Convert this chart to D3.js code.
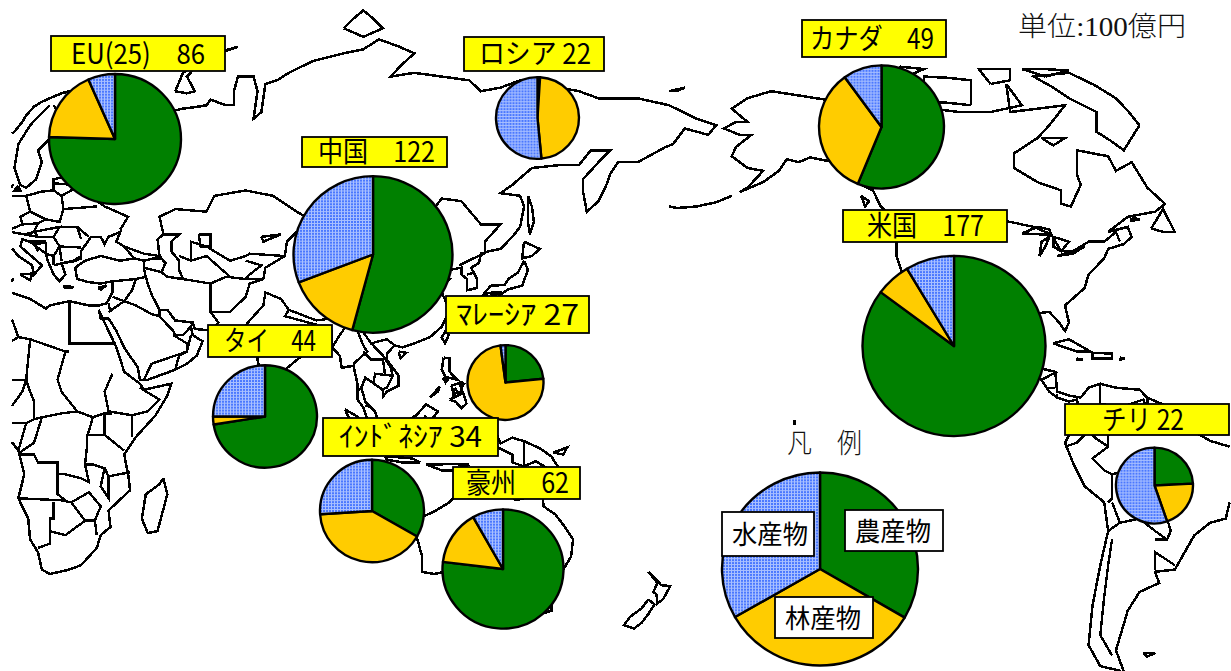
<!DOCTYPE html>
<html>
<head>
<meta charset="utf-8">
<script src="https://cdn.jsdelivr.net/npm/d3@7"></script>
<style>
html, body { margin: 0; padding: 0; background: #fff; }
svg { display: block; }
</style>
</head>
<body>
<svg id="chart" width="1231" height="671"></svg>
<script>
// names + totals (100 oku yen)
var regions = ['EU(25)', 'ロシア', '中国', 'タイ', 'ﾏﾚｰｼｱ', 'ｲﾝﾄﾞﾈｼｱ', '豪州', 'カナダ', '米国', 'チリ'];
var totals = [86, 22, 122, 44, 27, 34, 62, 49, 177, 22];
var labelText = ['EU(25)　86', 'ロシア 22', '中国　122', 'タイ　44', 'ﾏﾚｰｼｱ 27', 'ｲﾝﾄﾞﾈｼｱ 34', '豪州　62', 'カナダ　49', '米国　177', 'チリ 22'];

// shares in %
var agriculture = [75.5, 1, 54.2, 72.5, 23.4, 33.3, 76.9, 56.2, 85.2, 24.2];
var forestry = [17.9, 47.5, 15, 2.5, 74.5, 40.7, 14.9, 33.8, 6.2, 20.5];
var fishery = [6.6, 51.5, 30.8, 25, 2.1, 26, 8.2, 10, 8.6, 55.3];

var productNames = ['農産物', '林産物', '水産物'];
var legendShares = [33.4, 33.3, 33.3];

// map lines, lon/lat
var coasts = [
  // eurasia north, east, south
  [[5,60],[5,62],[8,63.5],[11,65],[13,66.5],[14,67.5],[16,68.8],[18,69.5],[20,70],[23,70.7],[25,71],[28,71],[31,70],[33,69.5],[37,69],[41,67.5],[40,66],[37,66.3],[35,66.5],[33,67],[35,65],[37,64],[40,65],[42,66.5],[44,66],[44,68],[46,68],[46,66.8],[50,68],[54,68.5],[58,68.8],[60,69],[61,69.8],[65,69],[67,69],[67,71],[68,73],[72,73],[73,71],[72,67],[74,68],[75,72],[78,72.5],[81,73.5],[87,75],[95,76],[100,76.5],[104,77.7],[113,76],[107,73],[113,73.5],[120,73],[127,72.5],[130,71],[135,71.5],[140,72.5],[150,71.5],[155,71],[160,70],[170,70],[178,69],[-175,67],[-170,66],[-172,64.5],[-178,65.5],[179,63],[177,62.5],[170,60],[165,60],[163,58],[162,56],[160,53],[157,51],[156,55],[156,57],[160,60],[163,62],[158,62],[155,59.5],[150,59.5],[143,59],[138,56],[135,54.5],[140,54],[141,52],[140,48],[138,46],[135,43.5],[132,43],[130,42.5],[129.5,40.5],[127.5,39.5],[129,37],[129,35],[126.5,34.5],[126.5,37],[125,38],[125,39.5],[122,39],[121,40.5],[118,39],[119,37.5],[122,37],[119.5,35],[121,32],[122,30],[120,26],[117,23.5],[113,22],[110,21],[108,21.5],[106,19.5],[106,18],[109,14],[109,11.5],[106,10],[105,8.7],[105,10.5],[102,12.5],[100.5,13.5],[99.5,11],[100.5,7.5],[103,5],[104,2],[103,1.5],[101,3],[100,6],[98.5,8],[98.5,12],[97.5,16.5],[94.5,16],[94,19],[92,21],[90,22],[87,21.5],[85,19.5],[80,15.5],[80,12],[78,8.5],[76,10],[74,14],[73,18],[73,21],[70.5,21],[69,22.5],[67,25],[62,25],[57,25.5],[56.5,27],[52,27.5],[50,30],[48,30],[48,28.5],[50,26.5],[51.5,25],[52,24],[54,24],[56,26],[56.5,24],[59,22.5],[57.5,19],[55,17],[52,15.5],[45,13],[43,13],[42.5,16],[39,21],[37,25],[35,28],[33,28],[32.5,30]],
  // mediterranean / black sea side
  [[32.5,31],[34.5,31.5],[36,34],[36,36.5],[33,36],[30,36.3],[27,37],[26.5,39.5],[29,41],[33,42],[38,41],[41.5,41.5],[39,44],[37,45],[38,47],[35,46],[34,44.5],[33,46],[30.5,46],[28,43],[28,41.5],[26,40.8],[23,40.5],[24,38],[22.5,36.5],[21,38],[19.5,41],[19,42.5],[15,45],[13,45.5],[12.5,44],[16,41.5],[18,40],[16,38],[15.5,40],[12,42],[10,44],[8,44]],
  // baltic
  [[11,59],[12.5,56],[14,55.5],[16.5,57],[18,60],[17,62],[21,64.5],[24,66],[25,65],[21.5,63],[21.5,61],[23,60],[30,60],[28,59.5],[24,59],[24,57.5],[21,57],[21,55],[18,54.8],[14,54],[10,54],[8,55],[9,57],[10.5,56],[10,54]],
  [[12,55.8],[12.5,55],[11,55],[12,55.8]],
  // africa
  [[32.5,30],[34,27],[37,21],[39,15],[43,12],[44,10.5],[51,12],[50,9],[47,4],[42,-1.5],[39,-6],[40,-11],[40.5,-15],[35,-20],[35.5,-24],[33,-26],[32,-29],[28,-33],[25,-34],[20,-35],[18,-34],[17,-30],[15,-27],[14.5,-22],[12,-17],[13.5,-11],[12,-5],[9,-1],[9.5,3.5],[6,4.5],[3,6]],
  [[32.5,31],[30,31],[25,32],[20,31],[19,30.3],[15,32.5],[10,34],[10.5,37],[7,37]],
  [[49,-12],[50,-16],[47.5,-25],[45,-25.5],[43.5,-22],[44.5,-16],[48,-13.5],[49,-12]],
  // caspian
  [[47.5,45.5],[49,46.5],[53,46.5],[51,45],[51,43],[53,41],[53,39],[54,37],[50,37.5],[48.5,38.5],[49.5,40.5],[48,42],[47.5,45.5]],
  // aral, balkhash
  [[58,46.5],[61,46.5],[61,44],[58.5,44],[58,46.5]],
  [[74,46],[79,46.5],[74.5,45],[74,46]],
  // arctic islands of russia
  [[52,71],[55,70.7],[57,71],[55,73],[60,75.5],[68,76.8],[62,76],[54,73.5],[52,71]],
  [[95,79],[100,78],[105,79],[100,81],[95,79]],
  [[137,75],[145,75.3],[150,75],[140,74],[137,75]],
  [[-180,71],[-178,71.5],[178,71],[-180,71]],
  // sakhalin
  [[142,54],[143,52],[143.5,49],[142.5,46.5],[142,49],[142,54]],
  // japan
  [[141,45],[145,43.5],[143,42],[140.5,41.5],[141,45]],
  [[141,41],[142,39],[140.5,35.5],[137,34.7],[135,33.5],[131,34],[132.5,35.5],[136,35.7],[137,37],[139.5,38.5],[141,41]],
  [[131,33.8],[132,32.8],[131,31],[129.8,32.5],[131,33.8]],
  [[132.5,34],[134.5,34],[133,33],[132.5,34]],
  [[127,26.8],[128.3,26.5],[127.7,26],[127,26.8]],
  // taiwan, hainan
  [[121,25],[121.8,24],[120.8,22],[120,23.5],[121,25]],
  [[109,20],[111,19.7],[109.5,18.3],[109,20]],
  // philippines
  [[120.5,18.5],[122,18.3],[122,15],[124,13],[121,13.7],[120,15.5],[120.5,18.5]],
  [[122,8],[125.5,9.7],[126.3,7],[125,5.8],[123.5,7.5],[122,8]],
  [[122.5,11.5],[125,12.3],[125,10],[123,9.5],[122.5,11.5]],
  [[117,8.5],[119.5,11.3],[119,10],[117,8.5]],
  [[120.3,13.4],[121.5,13],[121,12.3],[120.3,13.4]],
  [[124.3,12.5],[125.7,12],[125,11],[124.3,12.5]],
  [[123.3,11],[124,10],[123,9],[123.3,11]],
  // borneo, sumatra, java, sulawesi, new guinea
  [[109,1.5],[111,2.5],[113.5,4],[116,6.8],[119,5],[117.5,3],[118,1],[116.5,-1],[116,-4],[113,-3.3],[110,-3],[109,-0.5],[109,1.5]],
  [[95.3,5.5],[98,4],[100.5,2],[103.5,0],[106,-3],[105.5,-6],[102,-4],[100,-1.5],[97,2],[95.3,5.5]],
  [[105.5,-6.5],[109,-6.7],[112.5,-7],[114.5,-8],[110,-8],[106,-7.3],[105.5,-6.5]],
  [[120,1],[125,1.3],[121,0],[123,-1],[121.5,-2],[123,-5],[121,-3.5],[120.5,-5.5],[119.5,-3.5],[119.5,0],[120,1]],
  [[131,-1],[134,-0.8],[135,-3.2],[138,-1.7],[141,-2.6],[145,-4.4],[148,-6.5],[150.5,-10.5],[147,-9.5],[144,-7.7],[141,-9],[138,-8],[138,-6],[134,-4],[133,-4],[131,-1]],
  [[116,-8.5],[119,-8.5],[122.5,-8.4],[125,-8.5],[127,-8.5],[124,-10],[120,-10],[116,-8.5]],
  [[127.5,2],[128.5,0],[128,-1],[127.5,2]],
  [[128,-3],[130.5,-3.3],[128,-3.6],[128,-3]],
  [[148.5,-5.5],[152,-4.2],[151,-6],[148.5,-5.5]],
  // australia, tasmania, nz
  [[114,-22],[113.5,-26],[115,-31],[115,-34.5],[118,-35],[123.5,-34],[129,-31.6],[134,-32.5],[136,-35],[138,-33],[138,-35.5],[140.5,-38],[144,-38.5],[147,-38.8],[150,-37.5],[151,-34],[153,-31],[153.5,-27],[151,-23.5],[149,-21],[146,-19],[145.5,-15],[143.5,-14.2],[142.5,-11],[141.5,-13],[141,-17],[139,-17.5],[135.5,-15],[136.5,-12],[132,-11.5],[130,-13],[129,-15],[125,-14.5],[122,-18],[118,-20.3],[114,-22]],
  [[145,-41],[148,-41],[148,-43],[146,-43.5],[145,-41]],
  [[172.7,-34.5],[174.5,-36],[176,-37.5],[178.3,-37.7],[176.5,-40.5],[175,-41.5],[174.8,-39.5],[174,-39],[175,-37],[172.7,-34.5]],
  [[172.7,-40.6],[174.3,-41.7],[172.7,-43.7],[171,-45.5],[169,-46.7],[166.5,-46],[168,-44.3],[171,-42.5],[172.7,-40.6]],
  // sri lanka, sicily, sardinia, crete, cyprus
  [[80,9.7],[81.8,7.5],[80.6,6],[79.8,8],[80,9.7]],
  [[12.5,38],[15.5,38.2],[15,36.7],[12.5,38]],
  [[8.3,41],[9.7,41],[9.5,39],[8.5,39],[8.3,41]],
  [[23.5,35.5],[26.2,35.2],[24,35],[23.5,35.5]],
  [[32.3,35],[34.5,35.6],[33,34.6],[32.3,35]],
  // north america
  [[-141,69.7],[-150,70.5],[-156,71],[-162,70],[-166,68.5],[-162,66.5],[-165,66.5],[-168,65.5],[-164,64.5],[-161,64.5],[-165,62.5],[-166,61],[-162,59],[-158,58.5],[-162,55.5],[-164,54.7],[-158,56.5],[-154,58.5],[-152,60.5],[-149,60],[-146,60.8],[-140,60],[-136,58.5],[-133,56],[-130,55],[-128,52],[-124,49],[-124,46],[-124,42],[-122,37],[-118,34],[-117,32.5],[-115,28],[-110,23],[-112,27],[-114.7,31.5],[-112,29],[-109,25],[-105,21],[-105,19.5],[-100,17],[-95,16],[-92,14.5],[-87,13],[-85,10],[-83,8.5],[-80,7.5],[-78,8],[-77,4],[-79,1],[-81,-3],[-79,-8],[-76,-14],[-71,-18],[-70,-25],[-72,-33],[-74,-42],[-75,-50],[-72,-54],[-66,-55],[-68,-51],[-65,-43],[-62,-39],[-57,-37],[-58,-34.5],[-53,-34],[-48,-26],[-44,-23],[-40,-22],[-39,-18]],
  [[-77,8.5],[-75,11],[-72,12],[-68,11],[-62,10.5],[-60,8.5],[-52,5],[-50,1],[-44,-2.5],[-39,-4]],
  [[-77,8.5],[-80,9],[-83,10],[-83.5,15],[-88,16],[-88,21.5],[-90.5,21],[-91,18.5],[-95,18],[-97.5,22],[-97,27],[-94,29.5],[-90,29],[-85,29.5],[-82.5,27],[-81,25],[-80,27],[-81,31],[-76,35],[-75,38],[-71,41.5],[-70,43.5],[-66,44.5],[-64,46],[-65,48],[-70,47],[-65,50],[-58,51],[-55.5,52.5],[-60,55.5],[-64,60],[-68,58.5],[-70,61],[-78,62],[-78,58],[-77,56],[-79.5,52],[-82,52.5],[-82,55],[-88,56.5],[-94,59],[-94,61.5],[-88,64],[-85,66],[-81,69],[-88,68.5],[-95,68],[-96,72],[-92,69],[-100,68],[-108,68],[-115,68.5],[-125,70],[-135,69],[-141,69.7]],
  // great lakes
  [[-92,46.7],[-88,48],[-85,47.5],[-84.5,46.5],[-87,46.5],[-92,46.7]],
  [[-87.5,42],[-86,44],[-85,46],[-87,45],[-87.5,42]],
  [[-84,46],[-80,45],[-82,43],[-84,44],[-84,46]],
  [[-83,42],[-79,43],[-76,44],[-79,42.5],[-83,42]],
  // canadian arctic, newfoundland, cuba, hispaniola etc
  [[-62,66],[-68,70],[-80,73.5],[-89,73],[-80,70],[-73,68],[-73,65],[-66,62],[-62,66]],
  [[-105,69],[-117,69.5],[-117,73],[-105,72.5],[-105,69]],
  [[-125,72],[-117,74],[-123,74.3],[-125,72]],
  [[-100,72],[-95,72.5],[-95,74],[-103,74],[-100,72]],
  [[-86,73],[-80,73.8],[-92,74],[-86,73]],
  [[-87,64],[-81,64],[-84,62.8],[-87,64]],
  [[-59,47.7],[-56,51.5],[-53,47],[-56,47],[-59,47.7]],
  [[-64,49.8],[-62,49.5],[-64,49.2],[-64,49.8]],
  [[-84,22],[-80,23],[-74.5,20],[-78,20],[-84,22]],
  [[-74,19.7],[-69,19.5],[-69,18.3],[-74,18.3],[-74,19.7]],
  [[-78,18.3],[-76.5,18],[-78,18],[-78,18.3]],
  [[-67,18.5],[-65.7,18.3],[-67,18],[-67,18.5]],
  [[-128,50.7],[-124,49],[-126,49],[-128,50.7]],
  [[-133,54],[-131,53],[-132,52],[-133,54]],
  // aleutians
  [[-166,54],[-170,52.8],[-175,52],[-180,51.7],[178,52]],
  // falkland, kiritimati
  [[-61,-51.5],[-58,-51.5],[-60,-52.2],[-61,-51.5]],
  [[-150,2.8],[-150,1.6]]
];

var borders = [
  // africa
  [[25,32],[25,22],[37,22]], [[25,20],[24,20],[15,23]], [[24,20],[22,13],[23,10],[27,5],[31,3.5],[34,4.5],[36,4.5]],
  [[36,14.5],[34,10],[35,5],[41,4],[45,5],[48,8],[43,11]], [[41,4],[41,-1.5]], [[34,-1],[39,-5]],
  [[8.5,37],[8,33],[9.5,30],[12,23.5],[15,23],[14,13],[15,10],[16,7.5],[16,3],[18,3.5],[23,4.5],[27,5]],
  [[9,4.5],[13,10],[14,13],[8,13],[4,13.5]], [[12,-6],[13,-5],[16,-3],[18,3.5]],
  [[12,-6],[16,-6],[17,-8],[22,-8],[22,-11],[24,-11],[28,-12],[30,-13],[29,-8.5],[31,-8.5],[34,-9.5],[35,-11.5],[40.5,-10.5]],
  [[22,-11],[22,-16],[24,-17.5]], [[12,-17],[23,-17.5],[25.5,-18]], [[21,-18],[21,-22],[20,-22],[20,-28],[17,-29]],
  [[20,-25],[24,-26],[29,-22.5],[31.5,-22.5],[33,-19],[30,-15.5],[25.5,-18],[29,-22.5]], [[31.5,-22.5],[32,-26]],
  [[35,-11.5],[35,-17],[33,-14],[34,-9.5]], [[31,3.5],[30,0],[29.5,-1.5],[29.5,-4],[29,-8.5]], [[34,4.5],[34,-1],[30,-1]],
  [[9.5,2],[14,2],[16,3]], [[14,2],[12,-5]], [[4,13.5],[3,6]], [[12,23.5],[4,19],[3,15],[4,13.5]],
  // middle east
  [[35,29.5],[39,32],[42,31],[46,29],[48,28.5]], [[48,30],[46,33.5],[45,36],[44.5,37.5]], [[42,37],[41,34.5],[39,32],[36,33]],
  [[36,36.5],[42,37],[44.5,37.5],[44,39.5],[44,41]], [[41.5,41.5],[44,41],[46.5,41.5],[48.5,41.5]], [[39,44],[44,42.5],[48,42]],
  [[44,39.5],[48.5,38.5]], [[44,13],[46,17],[52,19],[55,20],[56,24]], [[52,15.5],[53,19],[55,20]], [[51.5,24],[55,22],[55,20]],
  [[35,31.5],[35.5,29.5]],
  // central and south asia
  [[61,25],[63,27],[61,29.5],[61,36]], [[54,37],[61,36],[65,37.5],[70,37],[74.5,37]], [[61,29.5],[66,29.5],[70,33],[71,36],[74.5,37]],
  [[68,24],[71,27.5],[74.5,31],[75,34],[79,32.5],[81,30],[88,27.5],[92,28],[97,28]], [[74.5,37],[75,39.5],[80,42],[80.5,45],[83,47],[87.5,49]],
  [[87.5,49],[92,50.5],[98,52],[102,50.5],[107,50],[112,50],[116,49.5],[119,47],[115,46],[111,43.5],[105,42],[97,43],[91,45],[90,47.5],[87.5,49]],
  [[116,49.5],[120,53.5],[125,53],[130,48.5],[135,48.5],[131,45],[131,43]], [[131,42.5],[128,41.5],[124.5,40]], [[126.5,38],[128.5,38.5]],
  [[49,46.5],[48,50],[52,51.5],[60,51],[62,54],[70,55],[77,54],[83,51],[87.5,49]],
  [[53,42],[56,41],[56,45],[60,44],[66,41],[70,42],[71,42.5],[80,42]], [[56,41],[60,42],[66,37.5]], [[70,41],[74,40],[71,38],[70,37]],
  [[81,30],[80,28.5],[88,26.5]], [[88.5,26],[88,22]], [[88.5,26],[92,25],[92,21]],
  // south east asia
  [[92,21],[94,24],[97,28],[98.5,25],[100,21.5],[101,20],[97.5,17]], [[100,20],[102,18],[105,18],[105.5,14.5]],
  [[102,22],[105,19],[107,16],[107.5,14]], [[97.5,28],[102,22],[106,23],[108,21.5]], [[102.5,12],[103,14.5],[107.5,14],[106,11],[104.5,10.5]],
  [[100.5,6.5],[102,6]], [[98.5,10],[99.5,11]], [[109.5,1.5],[114,1.5],[116,4]], [[141,-2.6],[141,-9]], [[125,-9],[125,-9.8]],
  // europe
  [[11,59],[12,63],[15,66],[20,69]], [[24,66],[21,69]], [[28,60.5],[31,63],[29,67],[28,70]],
  [[28,59.5],[28,56],[31,55],[32,53],[34,52],[40,50],[38,47.5]], [[23.5,51.5],[32,52]], [[23,54],[23.5,51.5]], [[21,55],[23,54],[28,56]],
  [[21,56.3],[26,56],[28,56]], [[24,57.5],[28,57.5]], [[14,54],[15,51],[19,49.5],[22.5,49],[23.5,51.5]], [[22.5,48],[27,48],[30,46]], [[27,48],[28,45.5]],
  [[22.5,44],[28,43.8]], [[16,47],[22.5,48],[21,46],[17,46],[16,47]], [[21,46],[22.5,44],[23,41]], [[21,40],[26,41]], [[13.5,46.5],[10,47],[7,46]],
  [[15,51],[12.5,50],[13,48.5],[17,48.7],[19,49.5]], [[13,48.5],[10,47.5]], [[17,46],[13.5,46.5],[16,47]], [[19,42.5],[21,42],[22.5,44]],
  [[19,42.5],[19,45]], [[10,54],[9,55]], [[15,45],[19,45]], [[17,43],[16,44.5],[19,44.8]], [[21,42],[21,40]], [[17,48.7],[16,47]], [[26,41],[28,42]],
  // north america
  [[-141,69.7],[-141,60]], [[-136,58.5],[-130,55]], [[-123,49],[-95,49],[-89,48],[-84.5,46.5],[-82,43],[-79,43],[-75,45],[-71,45],[-68,47],[-67,45]],
  [[-117,32.5],[-107,31.5],[-104,29],[-101,29.5],[-97,26]], [[-92,14.5],[-91,17.5],[-89,18]], [[-88,16],[-89,14]],
  [[-89,14],[-87,13]], [[-83,15],[-87,13]], [[-83.5,11],[-85.5,11]], [[-83,8.5],[-83,9.5]],
  // south america
  [[-72,12],[-72,7],[-67,6],[-67,1],[-70,-1],[-70,-4],[-73,-2],[-75,0],[-79,1]], [[-67,6],[-61,8],[-60,5],[-64,4],[-64,1],[-67,1]],
  [[-60,8.5],[-60,5],[-57,2],[-54,2],[-52,3]], [[-57,6],[-57,2]], [[-54,6],[-54,2]], [[-75,0],[-78,-3],[-81,-4]],
  [[-70,-4],[-74,-7],[-71,-10],[-69,-11],[-69,-17],[-70,-18]], [[-69,-11],[-65,-10],[-60,-14],[-58,-18],[-58,-20],[-62,-22],[-67,-23],[-69,-18]],
  [[-70,-25],[-67,-23]], [[-69,-27],[-70,-33],[-71,-40],[-72,-48],[-69,-52]], [[-62,-22],[-58,-25],[-55,-27],[-54,-25],[-55,-22],[-58,-20]],
  [[-58,-27],[-55,-27]], [[-58,-34],[-58,-30],[-53,-33]], [[-70,-1],[-64,1]]
];

var pieCentre = [[115, 139], [537.5, 118], [373, 254.5], [265, 416.5], [505.5, 382.5], [372, 511], [503, 569], [881.5, 127], [954, 346], [1154.5, 485.5]];
var pieRadius = [66, 41.5, 79.5, 52, 38, 52, 60.5, 62.5, 91.5, 38.5];
var labelBox = [[51, 36, 174, 35], [464, 37, 140, 34], [302, 137, 145, 30], [208, 325, 124, 32], [446, 296, 143, 37], [323, 418, 175, 38], [453, 467, 127, 32], [802, 20, 144, 37], [843, 210, 164, 32], [1065, 404, 164, 31]];
var labelInk = [[71, 134], [479, 112], [318, 117], [224, 92], [456, 123], [339, 143], [466, 103], [810, 124], [867, 117], [1102, 82]];

var colors = ['#008000', '#ffcc00', 'url(#fishHatch)'];

var svg = d3.select('#chart');
var defs = svg.append('defs');
var hatch = defs.append('pattern').attr('id', 'fishHatch')
  .attr('patternUnits', 'userSpaceOnUse').attr('width', 3).attr('height', 3);
hatch.append('rect').attr('width', 3).attr('height', 3).attr('fill', '#4a78ff');
hatch.append('rect').attr('x', 1).attr('width', 1).attr('height', 3).attr('fill', '#a9c0ff');
hatch.append('rect').attr('y', 1).attr('width', 3).attr('height', 1).attr('fill', '#a9c0ff');

// source map is a low res bitmap, soften the jaggies a little
defs.append('filter').attr('id', 'soft')
  .attr('x', 0).attr('y', 0)
  .attr('filterUnits', 'userSpaceOnUse')
  .attr('width', 1231).attr('height', 671)
  .append('feGaussianBlur').attr('stdDeviation', 0.4);

// miller, pacific centred
var millerRaw = function(lam, phi) {
  return [lam, 1.25 * Math.log(Math.tan(Math.PI / 4 + 0.4 * phi))];
};
var projection = d3.geoProjection(millerRaw)
  .rotate([-164.2, 0])
  .scale(224.6)
  .translate([615, 431])
  .clipExtent([[12, 0], [1231, 671]])
  .precision(0.5);
var path = d3.geoPath(projection);

var mapLayer = svg.append('g').attr('filter', 'url(#soft)');

var drawLines = function(lines, width) {
  mapLayer.append('path')
    .datum({type: 'MultiLineString', coordinates: lines})
    .attr('d', path)
    .attr('fill', 'none')
    .attr('stroke', '#000')
    .attr('stroke-width', width)
    .attr('shape-rendering', 'crispEdges');
};
drawLines(coasts, 2.5);
drawLines(borders, 2.4);

var pie = d3.pie().sort(null).value(function(d) { return d; });

var drawPie = function(shares, centre, radius) {
  var arc = d3.arc().innerRadius(0).outerRadius(radius);
  var g = svg.append('g')
    .attr('transform', 'translate(' + centre[0] + ',' + centre[1] + ') scale(1,0.985)');
  g.selectAll('path')
    .data(pie(shares))
    .enter().append('path')
    .attr('d', arc)
    .attr('fill', function(d, i) { return colors[i]; })
    .attr('stroke', '#000')
    .attr('stroke-width', 2.4)
    .attr('stroke-linejoin', 'round');
};

var drawBox = function(box, fill, sw) {
  svg.append('rect')
    .attr('x', box[0]).attr('y', box[1])
    .attr('width', box[2]).attr('height', box[3])
    .attr('fill', fill)
    .attr('stroke', '#000')
    .attr('stroke-width', sw);
};

var drawText = function(txt, x, baseline, size, width, color, family, weight) {
  svg.append('text')
    .attr('x', x).attr('y', baseline)
    .attr('font-family', family || '"Noto Sans CJK JP", sans-serif')
    .attr('font-size', size)
    .attr('font-weight', weight || 400)
    .attr('fill', color || '#000')
    .attr('textLength', width)
    .attr('lengthAdjust', 'spacingAndGlyphs')
    .style('white-space', 'pre')
    .text(txt);
};

regions.forEach(function(name, i) {
  drawPie([agriculture[i], forestry[i], fishery[i]], pieCentre[i], pieRadius[i]);
});

regions.forEach(function(name, i) {
  var box = labelBox[i];
  drawBox(box, '#ffff00', 1.8);
  drawText(labelText[i], labelInk[i][0], box[1] + box[3] / 2 + 10, 28, labelInk[i][1]);
});

// legend
drawPie(legendShares, [820, 569], 98);
var legendBox = [[845, 510, 98, 41], [775, 597, 98, 41], [722, 512, 92, 44]];
legendBox.forEach(function(box, i) {
  drawBox(box, '#fff', 1.8);
  drawText(productNames[i], box[0] + 10, box[1] + box[3] / 2 + 10, 26, 76);
});

var serif = '"Liberation Serif", "Noto Sans CJK JP", serif';
drawText('凡　例', 787, 453, 27, 75, '#111', serif, 300);
drawText('単位:100億円', 1018, 36, 27, 168, '#111', serif, 300);
</script>
</body>
</html>
